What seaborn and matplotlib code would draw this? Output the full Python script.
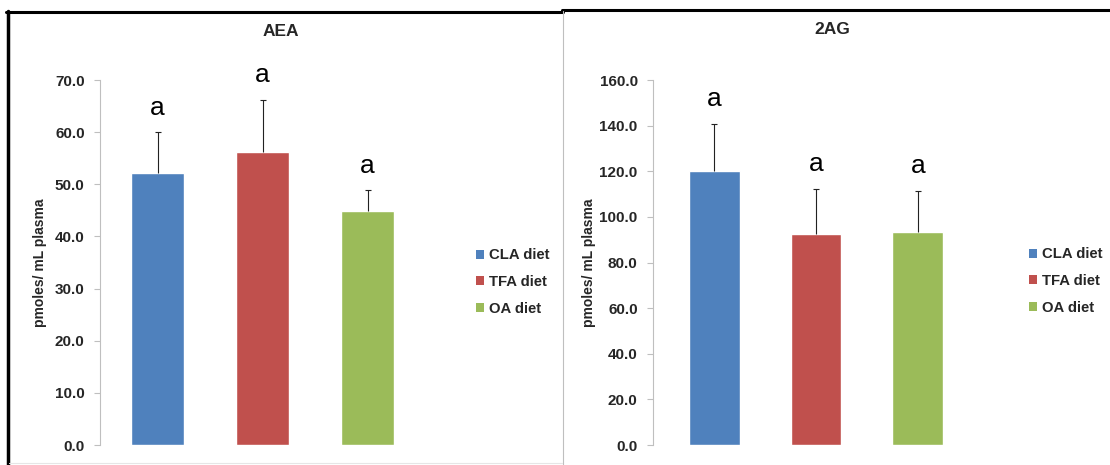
import matplotlib
matplotlib.use('Agg')
import matplotlib.pyplot as plt
from matplotlib.patches import Patch
from matplotlib.lines import Line2D
import seaborn as sns
import pandas as pd
import numpy as np

# diet groups and colours
diets = ['CLA diet', 'TFA diet', 'OA diet']
colors = ['#4F81BD', '#C0504D', '#9BBB59']

# AEA means and SD (upper error only)
aea_mean = [52.2, 56.2, 44.9]
aea_sd = [7.8, 10.0, 4.0]
aea_letters = ['a', 'a', 'a']

# 2AG means and SD
ag_mean = [120.2, 92.5, 93.4]
ag_sd = [20.6, 19.8, 18.0]
ag_letters = ['a', 'a', 'a']

sns.set_style('white')
plt.rcParams['font.family'] = ['Liberation Sans', 'DejaVu Sans']

fig = plt.figure(figsize=(11.1, 4.65), dpi=100)
W, H = 1110, 465


def fx(px):
    return px / W


def fy(py):
    return 1 - py / H


def draw_panel(ax, means, sds, letters, ymax, step, xlim, title, title_xy, leg_xy):
    df = pd.DataFrame({'diet': diets, 'value': means})
    sns.barplot(data=df, x='diet', y='value', hue='diet', palette=colors,
                width=0.5, legend=False, ax=ax, saturation=1)
    x = np.arange(len(diets))
    eb = ax.errorbar(x, means, yerr=[np.zeros(len(means)), sds], fmt='none',
                     ecolor='#222222', elinewidth=0.8, capsize=2.5, capthick=0.8)
    # only keep the upper cap
    eb[1][0].set_visible(False)
    for i in range(len(diets)):
        ax.annotate(letters[i], xy=(x[i], means[i] + sds[i]), xytext=(0, 9),
                    textcoords='offset points', ha='center', va='bottom',
                    fontsize=19, color='black')
    ax.set_xlim(*xlim)
    ax.set_ylim(0, ymax)
    ticks = np.arange(0, ymax + 0.1, step)
    ax.set_yticks(ticks)
    ax.set_yticklabels([f'{v:.1f}' for v in ticks], fontsize=11, fontweight='bold')
    ax.set_xticks([])
    ax.set_xlabel('')
    ax.set_ylabel('pmoles/ mL plasma', fontsize=10, fontweight='bold')
    for s in ['top', 'right', 'bottom']:
        ax.spines[s].set_visible(False)
    ax.spines['left'].set_color('#BFBFBF')
    ax.spines['left'].set_linewidth(0.8)
    ax.tick_params(axis='y', direction='out', length=4, width=0.8,
                   color='#BFBFBF', pad=7, left=True)
    handles = [Patch(facecolor=c, edgecolor='none') for c in colors]
    ax.legend(handles, diets, loc='center left',
              bbox_to_anchor=(fx(leg_xy[0]), fy(leg_xy[1])),
              bbox_transform=fig.transFigure, frameon=False,
              prop={'weight': 'bold', 'size': 10.7},
              handlelength=0.55, handleheight=0.55, handletextpad=0.35,
              labelspacing=0.85, borderaxespad=0, borderpad=0)
    fig.text(fx(title_xy[0]), fy(title_xy[1]), title, ha='center', va='center',
             fontsize=12.5, fontweight='bold')


ax1 = fig.add_axes([fx(100), fy(445), fx(320), 365 / H])
ax1.yaxis.set_label_coords(-0.166, 0.515)
draw_panel(ax1, aea_mean, aea_sd, aea_letters, 70, 10, (-0.55, 2.5),
           'AEA', (281, 31), (476, 282))

ax2 = fig.add_axes([fx(653), fy(445), fx(326), 365 / H])
ax2.yaxis.set_label_coords(-0.175, 0.515)
draw_panel(ax2, ag_mean, ag_sd, ag_letters, 160, 20, (-0.6, 2.6),
           '2AG', (832, 29), (1029, 281))

# panel frames
fig.add_artist(Line2D([fx(7.5), fx(7.5)], [fy(11), fy(465)], color='black', lw=2.5))
fig.add_artist(Line2D([fx(6), fx(563)], [fy(12), fy(12)], color='black', lw=2.2))
fig.add_artist(Line2D([fx(562), fx(1110)], [fy(10), fy(10)], color='black', lw=2.2))
fig.add_artist(Line2D([fx(563), fx(563)], [fy(11), fy(465)], color='#BFBFBF', lw=0.8))
fig.add_artist(Line2D([fx(9), fx(562)], [fy(463), fy(463)], color='#E6E6E6', lw=0.8))

fig.savefig('out.png', dpi=100)
